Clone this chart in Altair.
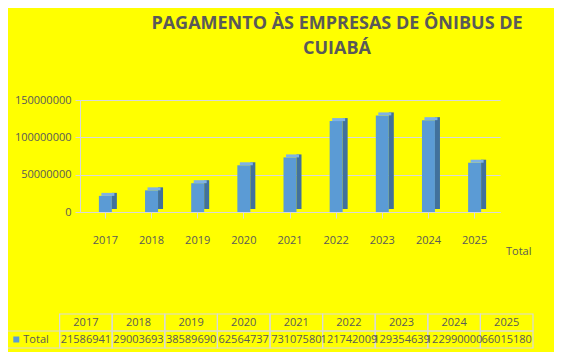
import altair as alt
import pandas as pd

years = ["2017", "2018", "2019", "2020", "2021", "2022", "2023", "2024", "2025"]
totals = [21586941, 29003693, 38589690, 62564737, 73107580, 121742009, 129354639, 122990000, 66015180]
series_name = "Total"
title_lines = ["PAGAMENTO ÀS EMPRESAS DE ÔNIBUS DE", "CUIABÁ"]
y_ticks = [0, 50000000, 100000000, 150000000]

FONT = "Open Sans"
TXT = "#595959"
GRID = "#D9D9D9"
FRONT = "#5B9BD5"
SIDE = "#41719C"
TOP = "#7FB2E5"

bars_df = pd.DataFrame({"year": years, "value": totals})

x_bar = alt.X(
    "year:N", sort=years, title=None,
    scale=alt.Scale(paddingInner=0.3, paddingOuter=0.2),
    axis=alt.Axis(labelAngle=0, labelFontSize=11, labelColor=TXT, labelFont=FONT,
                  domainColor=GRID, tickColor=GRID, labelPadding=16, tickSize=6, grid=False),
)
y_bar = alt.Y(
    "value:Q", title=None,
    scale=alt.Scale(domain=[0, 150000000]),
    axis=alt.Axis(values=y_ticks, format="d", labelFontSize=11, labelColor=TXT, labelFont=FONT,
                  domainColor=GRID, tickColor=GRID, gridColor=GRID, gridWidth=1.2, labelPadding=4),
)

front = alt.Chart(bars_df).mark_bar(size=13, color=FRONT).encode(x=x_bar, y=y_bar)
side = alt.Chart(bars_df).mark_bar(size=5, color=SIDE, xOffset=9, yOffset=-3, y2Offset=-3).encode(
    x=x_bar, y=y_bar, y2=alt.datum(0),
)
top = alt.Chart(bars_df).mark_bar(size=13, color=TOP, xOffset=2.5, yOffset=-3).encode(
    x=x_bar, y=y_bar, y2=alt.Y2("value:Q"),
)
series_lbl = alt.Chart(pd.DataFrame({"t": [series_name]})).mark_text(
    align="left", baseline="middle", fontSize=11, font=FONT, color=TXT
).encode(x=alt.value(426), y=alt.value(152), text="t:N")

bars_layer = alt.layer(front, side, top, series_lbl)

# Data table
cols = ["leg"] + years
cell_rows = []
for y_, v in zip(years, totals):
    cell_rows.append({"col": y_, "row": "h", "text": y_})
    cell_rows.append({"col": y_, "row": "v", "text": str(v)})
table_df = pd.DataFrame(cell_rows)
cells_df = pd.concat([table_df, pd.DataFrame([{"col": "leg", "row": "v", "text": ""}])], ignore_index=True)
leg_df = pd.DataFrame([{"col": "leg", "row": "v", "text": series_name}])

x_tab = alt.X("col:N", sort=cols, axis=None,
              scale=alt.Scale(range=[-73, 453], paddingInner=0, paddingOuter=0))
y_tab = alt.Y("row:N", sort=["h", "v"], axis=None,
              scale=alt.Scale(range=[214, 248], paddingInner=0, paddingOuter=0))

cells = alt.Chart(cells_df).mark_rect(fillOpacity=0, stroke=GRID, strokeWidth=1.2).encode(x=x_tab, y=y_tab)
texts = alt.Chart(table_df).mark_text(fontSize=11, font=FONT, color=TXT).encode(x=x_tab, y=y_tab, text="text:N")
leg_txt = alt.Chart(leg_df).mark_text(fontSize=11, font=FONT, color=TXT, align="left", xOffset=-10).encode(
    x=x_tab, y=y_tab, text="text:N")
leg_sw = alt.Chart(leg_df).mark_point(shape="square", filled=True, size=36, color=FRONT, opacity=1, xOffset=-17).encode(
    x=x_tab, y=y_tab)

table_layer = alt.layer(cells, texts, leg_txt, leg_sw)

chart = alt.layer(bars_layer, table_layer).resolve_scale(x="independent", y="independent").properties(
    width=420, height=112,
    autosize=alt.AutoSizeParams(type="none"),
    padding={"left": 72, "top": 92, "right": 54, "bottom": 140},
    background="#FFFF00",
    title=alt.TitleParams(text=title_lines, fontSize=18, font=FONT, fontWeight="bold", color=TXT,
                          anchor="middle", dx=47, offset=36, lineHeight=25),
).configure_view(stroke=None)

chart.save("out.html", embed_options={"renderer": "svg", "actions": False})
